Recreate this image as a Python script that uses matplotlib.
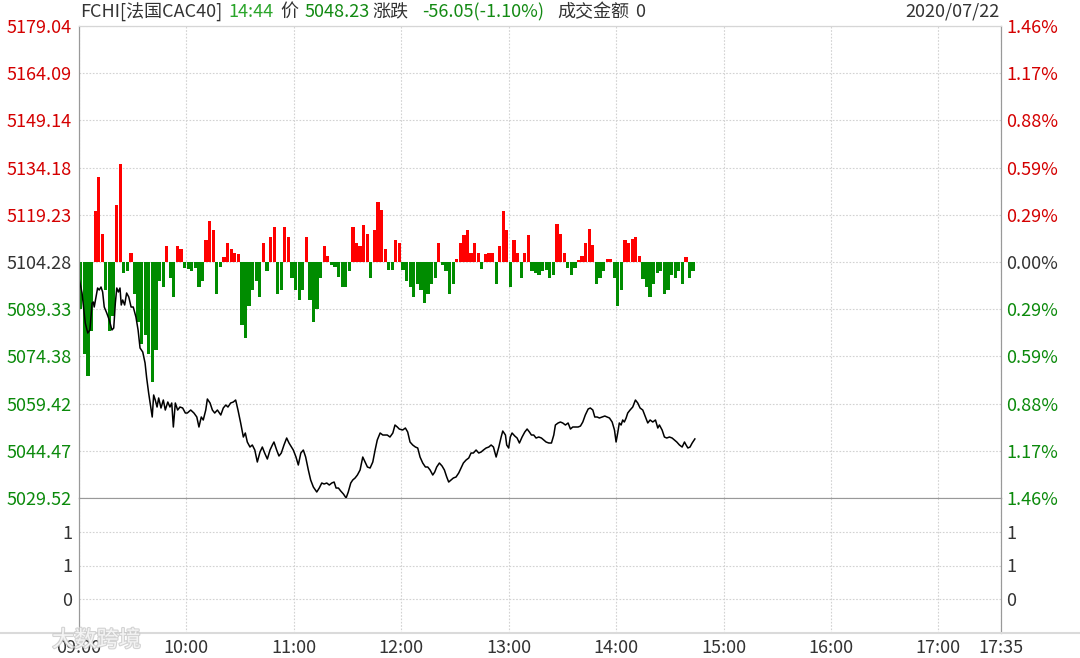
import numpy as np
import matplotlib.pyplot as plt
import matplotlib.patheffects as pe
from matplotlib.lines import Line2D

plt.rcParams['font.family'] = ['Noto Sans CJK SC', 'DejaVu Sans']

# ---- data ----
base = 5104.28
price_ticks = [5179.04, 5164.09, 5149.14, 5134.18, 5119.23, 5104.28,
               5089.33, 5074.38, 5059.42, 5044.47, 5029.52]
pct_labels = ['1.46%', '1.17%', '0.88%', '0.59%', '0.29%', '0.00%',
              '0.29%', '0.59%', '0.88%', '1.17%', '1.46%']
vol_ticks = [2, 1, 0]
vol_labels = ['1', '1', '0']
time_ticks = [0, 60, 120, 180, 240, 300, 360, 420, 480, 515]
time_labels = ['09:00', '10:00', '11:00', '12:00', '13:00', '14:00',
               '15:00', '16:00', '17:00', '17:35']

# price line: minutes after 09:00, index level
minutes = [0, 1.7, 3.5, 4.9, 6.1, 7.3, 8.0, 8.5, 9.5, 10.4, 11.3, 12.3, 13.2, 14.1,
           15.5, 16.9, 18.4, 19.4, 20.3, 21.1, 22.0, 22.9, 23.6, 24.4, 25.5, 26.6,
           27.8, 29.1, 30.3, 31.8, 33.0, 34.1, 35.6, 36.9, 37.8, 38.9, 40.1, 40.9,
           41.7, 42.6, 43.6, 44.5, 45.8, 47.1, 48.2, 49.6, 50.8, 51.8, 52.7, 53.8,
           55.1, 56.4, 57.9, 59.4,
           60.5, 62.4, 64.2, 65.8, 67.0, 68.3, 69.4, 70.8, 71.7, 73.2, 74.5, 75.8,
           77.3, 79.2, 80.6, 82.0, 83.2, 84.7, 86.2, 87.5, 88.8, 90.3, 91.8, 92.9,
           94.0, 95.5, 96.8, 98.2, 99.6, 101.1, 102.4, 103.7, 105.2, 106.7, 108.0,
           108.9, 110.4, 111.7, 113.0, 114.5, 116.0, 117.3,
           119.7, 121.2, 122.5, 123.9, 125.3, 126.6, 128.1, 129.4, 130.9, 132.8,
           134.2, 135.6, 136.9, 138.4, 139.8, 141.2, 142.5, 143.6, 144.9, 146.2,
           147.7, 149.2, 150.4, 151.8, 152.9, 154.2, 155.5, 157.0, 158.5, 159.8,
           161.1, 162.6, 164.1, 165.4, 166.6, 168.2, 169.7, 170.9, 172.2, 173.7,
           175.3, 176.5, 177.8, 178.9,
           180.8, 182.3, 183.6, 184.9, 186.4, 187.9, 189.2, 190.5, 192.0, 193.5,
           194.8, 196.1, 197.6, 198.7, 199.8, 201.3, 202.8, 204.1, 205.4, 206.5,
           207.8, 209.1, 210.6, 212.1, 213.4, 214.7, 216.2, 217.7, 219.0, 220.3,
           221.8, 223.3, 224.6, 225.9, 227.4, 228.9, 230.2, 231.5, 233.0, 234.5,
           235.8, 236.7, 238.2,
           238.9, 240.0, 240.9, 241.9, 243.4, 244.7, 246.0, 247.5, 249.0, 250.3,
           251.6, 252.7, 254.0, 255.3, 256.8, 258.3, 259.6, 260.9, 262.4, 263.9,
           265.2, 266.1, 267.6, 268.9, 270.2, 271.7, 273.2, 274.5, 275.8, 277.3,
           278.8, 280.1, 281.4, 282.8, 284.4, 285.6, 287.0, 288.1, 289.4, 290.7,
           292.2, 293.7, 295.0, 296.3,
           297.8, 299.1, 300.0, 300.9, 301.8, 302.8, 303.7, 304.6, 305.6, 306.5,
           307.8, 309.3, 310.8, 312.1, 313.4, 314.9, 316.4, 317.7, 319.0, 320.5,
           322.0, 323.3, 324.2, 325.7, 327.0, 328.3, 329.8, 331.3, 332.6, 333.9,
           335.4, 336.9, 338.2, 339.1, 340.1, 341.3, 342.5, 344.0]
prices = [5099.21, 5094.46, 5084.96, 5081.79, 5082.74, 5091.29, 5091.61, 5090.02, 5093.19,
          5096.04, 5095.41, 5096.36, 5094.78, 5090.02, 5088.12, 5085.91, 5082.74, 5083.37,
          5091.29, 5096.04, 5094.78, 5096.04, 5090.66, 5092.24, 5090.66, 5094.46, 5093.19,
          5090.02, 5090.02, 5086.86, 5082.74, 5077.04, 5075.77, 5072.28, 5067.53, 5062.78,
          5058.34, 5055.18, 5062.15, 5060.56, 5058.34, 5061.20, 5058.03, 5060.56, 5057.39,
          5059.93, 5058.34, 5059.61, 5052.01, 5059.61, 5057.39, 5058.34, 5058.03, 5056.44,
          5056.44, 5057.39, 5056.44, 5055.18, 5052.01, 5055.18, 5054.23, 5057.39, 5060.88,
          5059.61, 5057.39, 5056.44, 5057.39, 5055.81, 5058.03, 5058.98, 5058.34, 5059.61,
          5059.93, 5060.56, 5057.39, 5053.28, 5048.84, 5050.11, 5047.26, 5045.67, 5046.31,
          5044.72, 5040.92, 5044.09, 5045.67, 5043.77, 5041.87, 5044.72, 5046.31, 5047.26,
          5044.72, 5042.82, 5043.77, 5046.31, 5048.52, 5046.94,
          5044.72, 5042.50, 5039.97, 5043.77, 5044.72, 5042.50, 5038.39, 5035.22, 5033.00,
          5031.42, 5032.68, 5034.27, 5033.95, 5034.27, 5033.63, 5034.27, 5034.58, 5032.68,
          5032.68, 5031.73, 5030.78, 5029.52, 5031.42, 5034.27, 5035.22, 5035.85, 5036.80,
          5038.39, 5042.50, 5040.92, 5039.34, 5039.02, 5040.92, 5044.72, 5047.89, 5050.11,
          5049.47, 5049.47, 5049.47, 5048.84, 5050.11, 5052.64, 5052.01, 5051.37,
          5051.06, 5051.69, 5050.42, 5047.26, 5046.31, 5045.67, 5045.36, 5042.50, 5040.60,
          5039.34, 5039.34, 5038.39, 5036.80, 5037.75, 5039.34, 5040.60, 5039.65, 5038.39,
          5036.17, 5034.58, 5035.22, 5035.85, 5036.17, 5037.44, 5039.02, 5040.60, 5041.55,
          5042.19, 5043.77, 5043.77, 5044.72, 5043.77, 5044.09, 5044.72, 5045.36, 5045.67,
          5046.31, 5045.67, 5042.50, 5045.67, 5048.84, 5050.74, 5049.47,
          5046.31, 5045.36, 5048.84, 5050.11, 5049.16, 5048.52, 5046.94, 5048.84, 5050.42,
          5051.37, 5050.42, 5049.47, 5049.47, 5048.52, 5048.84, 5048.52, 5047.89, 5047.26,
          5046.94, 5046.94, 5049.47, 5052.64, 5053.28, 5053.59, 5053.28, 5052.64, 5053.28,
          5051.37, 5052.01, 5052.01, 5052.01, 5052.32, 5053.59, 5055.81, 5057.71, 5058.03,
          5057.39, 5055.18, 5055.18, 5054.86, 5055.18, 5055.49, 5055.18, 5054.86,
          5053.59, 5051.06, 5047.26, 5050.11, 5053.28, 5052.64, 5054.23, 5053.59, 5054.86,
          5056.44, 5057.39, 5058.34, 5060.56, 5059.61, 5058.03, 5057.39, 5055.18, 5053.28,
          5054.23, 5053.59, 5054.23, 5051.69, 5052.64, 5051.06, 5048.84, 5048.52, 5048.84,
          5048.52, 5047.89, 5047.26, 5046.31, 5045.67, 5047.26, 5046.31, 5045.36, 5045.67,
          5046.94, 5048.23]

# red/green strength bars, one per 2 minutes, in index points around the base
strength = [-15, -29, -36, -22, 16, 27, 9, -9, -22, -17,
            18, 31, -3.5, -3, 3, -10, -19, -26, -23, -29,
            -38, -28, -6, -8, 5, -5, -11, 5, 4, -2,
            -2.3, -3, -2, -7.8, -6, 7, 13, 10, -10, -1.5,
            1.5, 6, 4, 3, 2.5, -20, -24, -14, -9, -6,
            -11, 6, -3, 8, 11, -10, -9, 11, 8, -5,
            -8.9, -12, -9, 8, -12, -19, -15, -5, 5, 2,
            -1, -1.5, -4.6, -7.8, -8, -3, 11, 6, 5, 11.7,
            9, -5, 10, 19, 16.5, 4, -2.5, -2.5, 7, 6,
            -2.5, -6, -8, -11, -7, -9, -13, -10, -7, -5,
            6, -1, -3, -10, -7, 1, 6, 8.5, 10, 3,
            6, 3, -2.3, 2.5, 3, 3, -7, 5, 16, 10,
            -8, 7, 3, -5.2, 3, 8.5, -3, -3.5, -4, -3,
            -2.5, -5, -4, 12, 9, 2.7, -2, -4, -2, 0.5,
            2, 6, 10.6, 5.4, -7, -5, -3, 1, 1, -5,
            -14, -9, 7, 6, 7.4, 8, 2, -5.5, -8, -11,
            -7, -3.5, -3, -10, -9, -4, -5, -3, -7, 1.5,
            -5, -3]

RED_TXT = '#d40000'
GREEN_TXT = '#0b8a0b'
DARK = '#333333'
FS = 13

W, H = 1080, 658
fig = plt.figure(figsize=(W / 100, H / 100), dpi=100)
ax = fig.add_axes([79 / W, 1 - 498 / H, 922 / W, 472 / H])
axv = fig.add_axes([79 / W, 1 - 633 / H, 922 / W, 135 / H], sharex=ax)

grid_kw = dict(color='#d2d2d2', linestyle=(0, (1.5, 1.5)), linewidth=0.8)

# bars
t_bars = np.arange(len(strength)) * 2 + 1
s = np.array(strength)
bar_colors = np.where(s >= 0, '#ff0000', '#008c00')
ax.bar(t_bars, s, width=1.8, bottom=base, color=bar_colors, linewidth=0, zorder=2)

# price line
ax.plot(minutes, prices, color='black', linewidth=1.1, zorder=3)

ax.set_xlim(0, 515)
ax.set_ylim(price_ticks[-1], price_ticks[0])
ax.set_yticks(price_ticks)
ax.set_yticklabels([f'{v:.2f}' for v in price_ticks])
ax.set_xticks(time_ticks)
ax.tick_params(axis='x', labelbottom=False, length=0)
ax.tick_params(axis='y', length=0, pad=5, labelsize=FS)
ax.grid(True, **grid_kw)
ax.set_axisbelow(True)

axr = ax.twinx()
axr.set_ylim(ax.get_ylim())
axr.set_yticks(price_ticks)
axr.set_yticklabels(pct_labels)
axr.tick_params(axis='y', length=0, pad=4, labelsize=FS)

for lbls in (ax.get_yticklabels(), axr.get_yticklabels()):
    for lab, v in zip(lbls, price_ticks):
        if v > base:
            lab.set_color(RED_TXT)
        elif v < base:
            lab.set_color(GREEN_TXT)
        else:
            lab.set_color(DARK)

for a in (ax, axr):
    a.spines['top'].set_color('#d6d6d6')
    a.spines['left'].set_color('#999999')
    a.spines['right'].set_color('#999999')
    a.spines['bottom'].set_color('#999999')

# lower panel
axv.set_ylim(-1, 3)
axv.set_yticks(vol_ticks)
axv.set_yticklabels(vol_labels)
axv.set_xticks(time_ticks)
axv.set_xticklabels(time_labels)
axv.tick_params(axis='both', length=0, labelsize=FS, colors=DARK)
axv.tick_params(axis='y', pad=5)
axv.tick_params(axis='x', pad=4)
axv.grid(True, **grid_kw)
axvr = axv.twinx()
axvr.set_ylim(-1, 3)
axvr.set_yticks(vol_ticks)
axvr.set_yticklabels(vol_labels)
axvr.tick_params(axis='y', length=0, labelsize=FS, colors=DARK, pad=4)
for a in (axv, axvr):
    a.spines['top'].set_visible(False)
    a.spines['bottom'].set_visible(False)
    a.spines['left'].set_color('#999999')
    a.spines['right'].set_color('#999999')

fig.add_artist(Line2D([0, 1], [1 - 633 / H] * 2, color='#dadada', linewidth=1.5))

# header line
y_head = 1 - 12 / H
header = [(80, 'FCHI[法国CAC40]', DARK), (228, '14:44', '#2aa52a'),
          (280, '价', DARK), (305, '5048.23', '#138a13'), (372, '涨跌', DARK),
          (422, '-56.05(-1.10%)', '#138a13'), (557, '成交金额', DARK), (635, '0', DARK)]
for xp, txt, col in header:
    fig.text(xp / W, y_head, txt, color=col, fontsize=FS, ha='left', va='center')
fig.text(1000 / W, y_head, '2020/07/22', color=DARK, fontsize=FS, ha='right', va='center')

# faint watermark (semi-transparent, as in the screenshot)
fig.text(52 / W, 1 - 640 / H, '大数跨境', color='white', fontsize=16, ha='left', va='center',
         alpha=0.75, path_effects=[pe.withStroke(linewidth=1.6, foreground='#c8c8c8', alpha=0.8)],
         zorder=10)

fig.savefig('out.png', dpi=100)
